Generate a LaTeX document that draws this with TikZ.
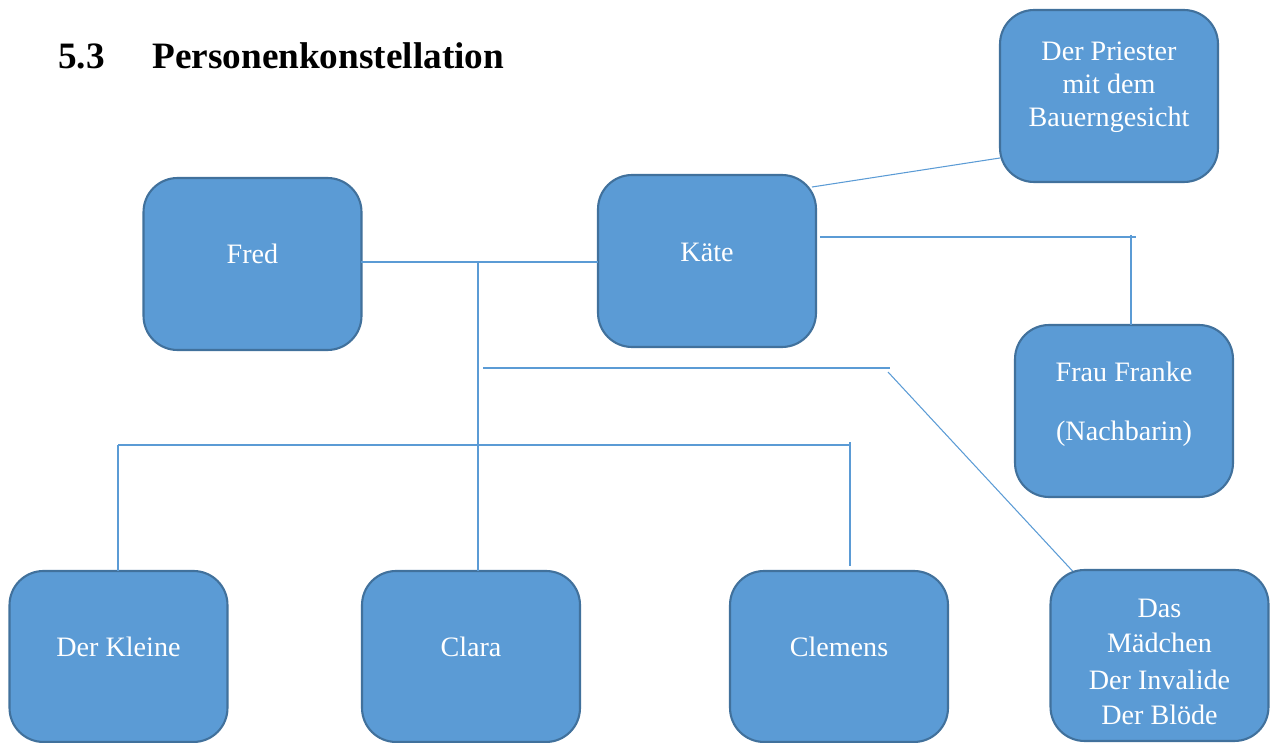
\documentclass[tikz,border=0pt]{standalone}
\usepackage{fontspec}
\setmainfont{Liberation Serif}
\usetikzlibrary{calc}
\definecolor{boxfill}{HTML}{5B9BD5}
\definecolor{boxborder}{HTML}{41719C}
\definecolor{linkcol}{HTML}{5B9BD5}
\tikzset{
  personbox/.style={draw=boxborder, fill=boxfill, line width=1.2pt, rounded corners=0.68cm,
    minimum width=4.36cm, minimum height=3.44cm, inner sep=0pt, outer sep=0pt},
  persontext/.style={text=white, font=\fontsize{16}{19}\selectfont, anchor=base, inner sep=0pt},
  titletext/.style={font=\fontsize{21.2}{25}\selectfont\bfseries, anchor=base west, inner sep=0pt},
  link/.style={draw=linkcol, line width=0.6pt}
}
\begin{document}
\begin{tikzpicture}[x=0.02cm, y=-0.02cm]
\useasboundingbox (0,0) rectangle (1271,743);
\clip (0,0) rectangle (1271,743);
% title
\node[titletext] (tnum) at (58,69) {5.3};
\node[titletext] (ttitle) at (152,69) {Personenkonstellation};
% boxes
\node[personbox] (pri) at (1109,96) {};
\node[personbox] (fred) at (252.5,264) {};
\node[personbox] (kaete) at (707,261) {};
\node[personbox] (franke) at (1124,411) {};
\node[personbox, minimum height=3.42cm, anchor=north] (kleine) at (118.5,571) {};
\node[personbox, minimum height=3.42cm, anchor=north] (clara) at (471,571) {};
\node[personbox, minimum height=3.42cm, anchor=north] (clemens) at (839,571) {};
\node[personbox, minimum height=3.42cm, anchor=north] (maedchen) at (1159.5,570) {};
% texts
\node[persontext] (pri1) at (1109,61) {Der Priester};
\node[persontext] (pri2) at (1109,94) {mit dem};
\node[persontext] (pri3) at (1109,127) {Bauerngesicht};
\node[persontext] (fredt) at (252.5,263) {Fred};
\node[persontext] (kaetet) at (707,261) {Käte};
\node[persontext] (franke1) at (1124,381) {Frau Franke};
\node[persontext] (franke2) at (1124,440) {(Nachbarin)};
\node[persontext] (kleinet) at (118.5,656) {Der Kleine};
\node[persontext] (clarat) at (471,656) {Clara};
\node[persontext] (clemenst) at (839,656) {Clemens};
\node[persontext] (m1) at (1159.5,617) {Das};
\node[persontext] (m2) at (1159.5,652) {Mädchen};
\node[persontext] (m3) at (1159.5,689) {Der Invalide};
\node[persontext] (m4) at (1159.5,724) {Der Blöde};
% connectors
\coordinate (j1) at (478,262);
\draw[link] (fred.east |- j1) -- (kaete.west |- j1);
\draw[link] (j1) -- (j1 |- clara.north);
\coordinate (h2a) at (483,368);
\coordinate (h2b) at (890,368);
\draw[link] (h2a) -- (h2b);
\coordinate (d1) at (888,372);
\draw[link] (d1) -- ($(maedchen.north west)+(22,1)$);
\coordinate (h3a) at (118,445);
\coordinate (h3b) at (850,445);
\draw[link] (h3a) -- (h3b);
\draw[link] (h3a) -- (h3a |- kleine.north);
\draw[link] ($(h3b)+(0,-3)$) -- ($(h3b |- clemens.north)+(0,-5)$);
\draw[link] ($(kaete.north east)+(-4,12)$) -- ($(pri.south west)+(0,-24)$);
\coordinate (h4) at (1131,237);
\draw[link] ($(kaete.east |- h4)+(4,0)$) -- ($(h4)+(5,0)$);
\draw[link] ($(h4)+(0,-2)$) -- (h4 |- franke.north);
\end{tikzpicture}
\end{document}
